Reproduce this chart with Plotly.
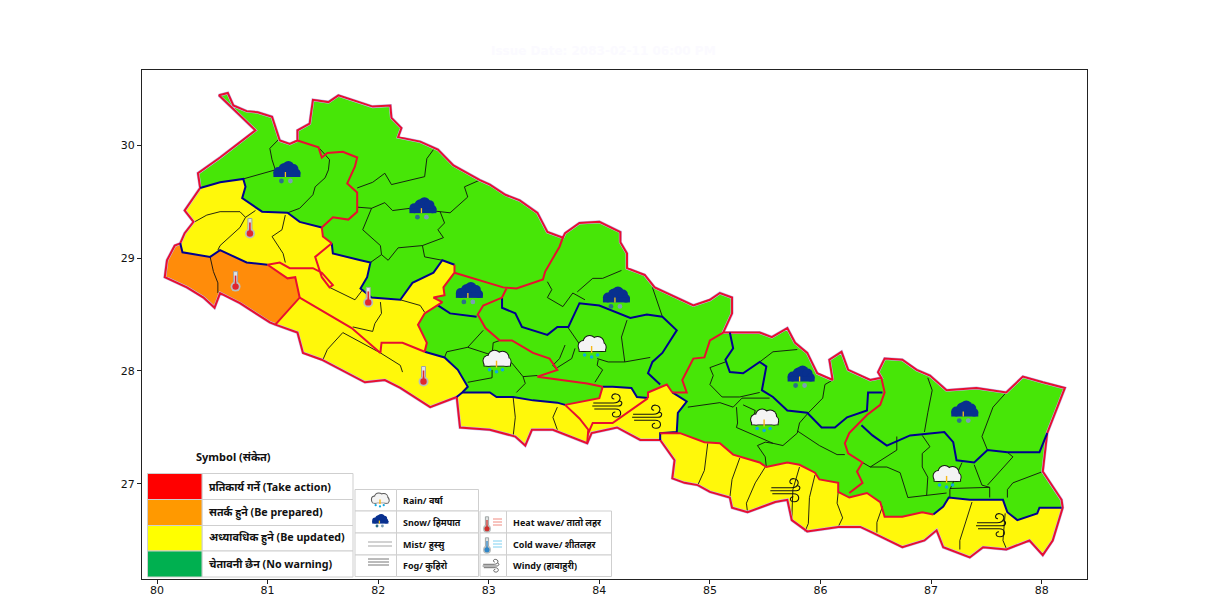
import plotly.graph_objects as go

# map segments, (lon, lat)
outer_north = [(80.39, 29.62), (80.37, 29.75), (80.57, 29.89), (80.89, 30.13), (80.56, 30.44), (80.64, 30.46),
               (80.69, 30.35), (80.81, 30.30), (80.91, 30.29), (81.04, 30.25), (81.08, 30.13), (81.11, 30.04),
               (81.20, 30.01), (81.27, 30.04), (81.27, 30.13), (81.38, 30.19), (81.41, 30.40), (81.55, 30.38),
               (81.64, 30.44), (81.77, 30.40), (81.95, 30.34), (82.11, 30.35), (82.12, 30.24), (82.21, 30.15),
               (82.18, 30.07), (82.38, 30.03), (82.54, 29.96), (82.68, 29.82), (82.92, 29.69), (83.01, 29.65),
               (83.15, 29.56), (83.28, 29.51), (83.44, 29.40), (83.53, 29.23), (83.67, 29.18), (83.69, 29.22),
               (83.82, 29.31), (84.00, 29.32), (84.19, 29.23), (84.19, 29.14), (84.25, 29.04), (84.25, 28.91),
               (84.41, 28.85), (84.50, 28.74), (84.85, 28.58), (85.00, 28.63), (85.09, 28.69), (85.20, 28.65),
               (85.20, 28.51), (85.12, 28.34), (85.20, 28.34), (85.45, 28.34), (85.56, 28.30), (85.70, 28.38),
               (85.77, 28.25), (85.88, 28.16), (85.97, 27.98), (86.11, 27.92), (86.08, 28.10), (86.19, 28.17),
               (86.25, 28.01), (86.45, 27.92), (86.55, 27.94), (86.52, 27.99), (86.58, 28.11), (86.74, 28.10),
               (86.87, 28.01), (86.99, 27.96), (87.14, 27.83), (87.41, 27.85), (87.68, 27.81), (87.83, 27.95),
               (88.01, 27.90), (88.21, 27.85), (88.05, 27.45), (88.01, 27.11), (88.18, 26.86), (88.19, 26.79)]
south_d = [(88.19, 26.79), (88.10, 26.50), (88.01, 26.37), (87.89, 26.50), (87.68, 26.42), (87.47, 26.44),
           (87.35, 26.35), (87.11, 26.44), (87.05, 26.59), (86.94, 26.50), (86.74, 26.44), (86.47, 26.57),
           (86.36, 26.62), (86.16, 26.62), (85.88, 26.58), (85.74, 26.68), (85.70, 26.86), (85.59, 26.84),
           (85.34, 26.75), (85.20, 26.79), (85.18, 26.88), (85.00, 26.93), (84.89, 26.99), (84.77, 27.01),
           (84.66, 27.05), (84.68, 27.21), (84.55, 27.39)]
south_c = [(84.55, 27.39), (84.37, 27.39), (84.16, 27.50), (83.93, 27.45), (83.89, 27.36)]
south_b = [(83.89, 27.36), (83.58, 27.48), (83.39, 27.48), (83.33, 27.34), (83.24, 27.42), (83.01, 27.48),
           (82.74, 27.50), (82.71, 27.77)]
south_a = [(82.71, 27.77), (82.47, 27.68), (82.20, 27.85), (82.06, 27.92), (81.88, 27.90), (81.70, 27.99),
           (81.49, 28.10), (81.32, 28.16), (81.27, 28.34), (81.07, 28.41)]
south_o = [(81.07, 28.41), (81.02, 28.43), (80.75, 28.60), (80.57, 28.69), (80.52, 28.56), (80.42, 28.65),
           (80.27, 28.74), (80.07, 28.83), (80.09, 28.98), (80.16, 29.11), (80.21, 29.13)]
south_w = [(80.21, 29.13), (80.25, 29.22), (80.33, 29.32), (80.25, 29.42), (80.39, 29.62)]

blue_a = [(80.39, 29.62), (80.57, 29.67), (80.78, 29.70), (80.80, 29.63), (80.77, 29.53), (80.95, 29.41),
          (81.18, 29.40), (81.29, 29.32), (81.49, 29.27)]
red_a = [(81.49, 29.27), (81.50, 29.19), (81.58, 29.13)]
blue_b = [(81.58, 29.13), (81.59, 29.04), (81.84, 28.98), (81.93, 28.96), (81.90, 28.83), (81.84, 28.73),
          (81.94, 28.65), (82.20, 28.63), (82.31, 28.78), (82.50, 28.87), (82.58, 28.98), (82.69, 28.94)]
red_c = [(82.69, 28.94), (82.69, 28.87), (82.59, 28.74), (82.60, 28.67), (82.50, 28.65), (82.58, 28.61),
         (82.42, 28.51), (82.36, 28.41), (82.44, 28.25), (82.42, 28.17)]
blue_d = [(82.42, 28.17), (82.60, 28.12), (82.72, 28.01), (82.81, 27.86), (82.76, 27.81), (82.71, 27.77)]
blue_o = [(80.21, 29.13), (80.23, 29.05), (80.48, 29.01), (80.57, 29.07), (80.81, 28.96), (81.00, 28.94)]
red_o = [(81.00, 28.94), (81.18, 28.82), (81.25, 28.83), (81.29, 28.65), (81.07, 28.41)]
blue_e = [(82.76, 27.81), (82.89, 27.81), (83.01, 27.81), (83.07, 27.77), (83.22, 27.77), (83.40, 27.74),
          (83.62, 27.72), (83.69, 27.70)]
red_f = [(83.69, 27.70), (83.82, 27.58), (83.90, 27.48), (83.89, 27.36)]
red_g = [(83.69, 27.70), (84.00, 27.76), (84.03, 27.86)]
blue_h = [(84.03, 27.86), (84.12, 27.86), (84.29, 27.85), (84.34, 27.77), (84.44, 27.76)]
red_h = [(84.44, 27.76), (84.44, 27.81), (84.61, 27.88), (84.66, 27.81)]
blue_i = [(84.66, 27.81), (84.79, 27.73), (84.71, 27.63), (84.70, 27.46), (84.55, 27.45), (84.55, 27.39)]
red_i = [(84.44, 27.76), (84.25, 27.63), (84.12, 27.54), (83.94, 27.54), (83.90, 27.45)]
red_j = [(84.55, 27.45), (84.73, 27.45), (84.95, 27.37), (85.09, 27.36), (85.21, 27.26), (85.45, 27.19),
         (85.51, 27.15), (85.70, 27.19), (85.81, 27.17), (85.95, 27.10), (85.99, 27.04), (86.16, 27.01),
         (86.16, 26.93), (86.26, 26.88), (86.42, 26.92), (86.54, 26.84), (86.58, 26.71), (86.74, 26.71),
         (86.92, 26.75), (87.02, 26.73)]
blue_k = [(87.02, 26.73), (87.11, 26.80), (87.16, 26.88), (87.35, 26.86), (87.65, 26.86), (87.69, 26.75),
          (87.78, 26.68), (87.96, 26.74), (87.98, 26.79), (88.18, 26.79)]

# zone lines inside the country
red_lines = [
    [(81.27, 30.04), (81.46, 29.98), (81.49, 29.89), (81.54, 29.93), (81.68, 29.94), (81.81, 29.89), (81.79, 29.81),
     (81.72, 29.66), (81.81, 29.58), (81.81, 29.41), (81.73, 29.34), (81.59, 29.36), (81.49, 29.27)],
    [(81.00, 28.94), (81.11, 28.96), (81.20, 28.91), (81.41, 28.91), (81.49, 28.87), (81.59, 28.76), (81.56, 28.74),
     (81.49, 28.83), (81.43, 29.01), (81.58, 29.13)],
    [(81.29, 28.65), (81.54, 28.51), (81.76, 28.38), (82.02, 28.16), (82.03, 28.25), (82.22, 28.25), (82.42, 28.17)],
    [(82.69, 28.87), (82.86, 28.82), (83.13, 28.74), (83.25, 28.73), (83.49, 28.81), (83.51, 28.88), (83.64, 29.10),
     (83.67, 29.18)],
    [(83.16, 28.73), (83.12, 28.65), (82.95, 28.58), (82.90, 28.50), (82.97, 28.38), (83.10, 28.27), (83.21, 28.27),
     (83.40, 28.16), (83.55, 28.11), (83.62, 28.01), (83.44, 27.95), (83.67, 27.92), (83.89, 27.89), (84.03, 27.86)],
    [(85.12, 28.34), (85.00, 28.27), (84.95, 28.12), (84.85, 28.11), (84.75, 27.92), (84.79, 27.81), (84.66, 27.81)],
    [(86.55, 27.94), (86.58, 27.81), (86.54, 27.70), (86.42, 27.61), (86.26, 27.45), (86.22, 27.36), (86.25, 27.27),
     (86.38, 27.19), (86.33, 27.11), (86.38, 27.01), (86.26, 26.92)],
    red_a, red_c, red_f, red_g, red_h, red_i, red_j, red_o,
]
blue_lines = [
    [(83.12, 28.65), (83.12, 28.56), (83.24, 28.51), (83.30, 28.39), (83.53, 28.32), (83.62, 28.39), (83.72, 28.39),
     (83.82, 28.60), (84.00, 28.58), (84.28, 28.47), (84.43, 28.50), (84.57, 28.48), (84.70, 28.36), (84.57, 28.16),
     (84.48, 28.08), (84.44, 27.98), (84.55, 27.88)],
    [(82.54, 28.58), (82.65, 28.51), (82.89, 28.48)],
    [(85.18, 28.34), (85.21, 28.20), (85.14, 28.10), (85.18, 27.99), (85.30, 27.98), (85.45, 28.08), (85.51, 28.04),
     (85.47, 27.83), (85.57, 27.77), (85.70, 27.65), (85.88, 27.63), (86.01, 27.50), (86.13, 27.50), (86.24, 27.59),
     (86.42, 27.65), (86.43, 27.81), (86.56, 27.81)],
    [(86.37, 27.52), (86.47, 27.43), (86.60, 27.34), (86.81, 27.43), (87.12, 27.46), (87.20, 27.37), (87.23, 27.21),
     (87.39, 27.19), (87.51, 27.30), (87.69, 27.28), (87.98, 27.28), (88.05, 27.45)],
    blue_a, blue_b, blue_d, blue_e, blue_h, blue_i, blue_k, blue_o,
]
# district lines
black_lines = [
    [(81.11, 30.06), (81.02, 29.97), (81.04, 29.87), (81.07, 29.78), (80.78, 29.70)],
    [(81.47, 29.97), (81.56, 29.87), (81.55, 29.78), (81.52, 29.71), (81.43, 29.63), (81.41, 29.56), (81.29, 29.44),
     (81.18, 29.40)],
    [(82.50, 29.96), (82.44, 29.88), (82.42, 29.72), (82.12, 29.65), (82.06, 29.75), (81.95, 29.67), (81.81, 29.62)],
    [(81.81, 29.45), (81.94, 29.44), (82.06, 29.49), (82.13, 29.42), (82.29, 29.44), (82.56, 29.41), (82.65, 29.40),
     (82.81, 29.54), (82.78, 29.63), (82.92, 29.69)],
    [(81.94, 29.44), (81.86, 29.25), (82.02, 29.11), (82.03, 29.03), (82.09, 28.98), (82.18, 29.09), (82.40, 29.11),
     (82.42, 29.01), (82.58, 28.98)],
    [(82.56, 29.41), (82.60, 29.31), (82.54, 29.25), (82.59, 29.18), (82.40, 29.11)],
    [(82.03, 29.03), (81.93, 28.96)],
    [(80.34, 29.32), (80.45, 29.38), (80.57, 29.41), (80.75, 29.41), (80.80, 29.36), (80.89, 29.42)],
    [(80.80, 29.36), (80.75, 29.27), (80.57, 29.11), (80.55, 29.07)],
    [(80.48, 29.01), (80.51, 28.88), (80.55, 28.78), (80.55, 28.69)],
    [(81.16, 29.38), (81.13, 29.25), (81.04, 29.19), (81.14, 29.04), (81.16, 28.96)],
    [(81.56, 28.74), (81.79, 28.63), (81.86, 28.72)],
    [(82.02, 28.61), (82.03, 28.51), (81.97, 28.42), (81.95, 28.35), (81.77, 28.39)],
    [(82.20, 28.63), (82.38, 28.58), (82.42, 28.52)],
    [(81.68, 28.34), (81.54, 28.19), (81.50, 28.10)],
    [(81.68, 28.34), (82.02, 28.16), (82.20, 28.05), (82.22, 27.99)],
    [(82.95, 28.36), (82.81, 28.21), (82.62, 28.17), (82.60, 28.12)],
    [(82.81, 28.21), (83.03, 28.14), (83.04, 28.25), (83.10, 28.27)],
    [(83.03, 28.14), (83.21, 28.07), (83.31, 27.95), (83.33, 27.89), (83.25, 27.81)],
    [(83.31, 27.95), (83.44, 27.96)],
    [(82.81, 27.90), (83.03, 27.94), (83.03, 28.01)],
    [(83.53, 28.79), (83.57, 28.72), (83.53, 28.65), (83.67, 28.57), (83.76, 28.69), (83.87, 28.63)],
    [(83.80, 28.70), (83.94, 28.82), (84.03, 28.82), (84.20, 28.89)],
    [(84.48, 28.74), (84.57, 28.48)],
    [(84.25, 28.45), (84.20, 28.30), (84.23, 28.08), (84.46, 28.12)],
    [(83.98, 28.11), (84.08, 28.08), (84.23, 28.08)],
    [(83.72, 28.38), (83.80, 28.26), (83.84, 28.21)],
    [(83.69, 28.23), (83.64, 28.11), (83.58, 28.05), (83.62, 28.01)],
    [(83.78, 28.20), (83.75, 28.11), (83.62, 28.03)],
    [(83.99, 28.10), (83.98, 28.05), (84.03, 28.01), (83.96, 27.90)],
    [(83.22, 27.77), (83.24, 27.59), (83.22, 27.42)],
    [(83.62, 27.68), (83.58, 27.59), (83.62, 27.48)],
    [(85.00, 28.03), (85.14, 28.08)],
    [(85.00, 28.03), (85.03, 27.96), (85.00, 27.88), (85.11, 27.77), (85.27, 27.77), (85.45, 27.81)],
    [(85.45, 28.08), (85.57, 28.17), (85.79, 28.19)],
    [(84.80, 27.68), (85.09, 27.72), (85.21, 27.68), (85.29, 27.76), (85.54, 27.76)],
    [(85.24, 27.68), (85.25, 27.54), (85.24, 27.50), (85.42, 27.42), (85.57, 27.36), (85.66, 27.34), (85.79, 27.45),
     (85.81, 27.54), (85.89, 27.63)],
    [(85.30, 27.70), (85.41, 27.65), (85.38, 27.55)],
    [(85.79, 27.47), (85.99, 27.34), (86.15, 27.26), (86.22, 27.26)],
    [(85.89, 27.63), (86.02, 27.76), (86.04, 27.88), (86.11, 27.92)],
    [(85.43, 27.34), (85.50, 27.37), (85.57, 27.36)],
    [(85.43, 27.34), (85.50, 27.24), (85.51, 27.15)],
    [(86.38, 27.19), (86.45, 27.15), (86.69, 27.30), (86.69, 27.42)],
    [(86.45, 27.15), (86.60, 27.15), (86.72, 27.10), (86.78, 26.92), (86.79, 26.88), (87.14, 26.92)],
    [(86.92, 27.43), (86.99, 27.33), (86.92, 27.27), (86.92, 27.15), (86.97, 27.06), (86.96, 26.90)],
    [(86.97, 27.94), (87.01, 27.83), (86.97, 27.63), (86.94, 27.46)],
    [(87.68, 27.81), (87.56, 27.68), (87.46, 27.42), (87.51, 27.30)],
    [(87.28, 27.19), (87.17, 26.95), (87.17, 26.88)],
    [(87.39, 27.17), (87.46, 26.99), (87.53, 26.97), (87.53, 26.88)],
    [(87.17, 26.96), (87.53, 26.97)],
    [(87.51, 26.99), (87.74, 27.24), (87.69, 27.28)],
    [(88.01, 27.11), (87.74, 27.01), (87.69, 26.95), (87.69, 26.88)],
    [(84.98, 27.36), (84.95, 27.12), (84.89, 26.99)],
    [(85.27, 27.23), (85.20, 27.04), (85.18, 26.88)],
    [(85.50, 27.15), (85.41, 27.01), (85.33, 26.83), (85.34, 26.75)],
    [(85.81, 27.15), (85.75, 26.95), (85.74, 26.68)],
    [(85.95, 27.08), (85.90, 26.88), (85.89, 26.65), (85.86, 26.58)],
    [(86.16, 26.93), (86.15, 26.83), (86.20, 26.70), (86.16, 26.62)],
    [(86.56, 26.80), (86.51, 26.66), (86.51, 26.57)],
    [(87.37, 26.84), (87.32, 26.68), (87.26, 26.50), (87.26, 26.42)],
    [(87.67, 26.74), (87.65, 26.50), (87.68, 26.43)],
]

snow_at = [(81.17, 29.77), (82.40, 29.45), (82.82, 28.70), (84.15, 28.66), (85.82, 27.96), (87.30, 27.65)]
rain_at = [(83.07, 28.10), (83.93, 28.23), (85.49, 27.58), (87.14, 27.08)]
thermo_at = [(80.84, 29.27), (80.71, 28.80), (81.91, 28.66), (82.41, 27.96)]
wind_at = [(84.09, 27.69), (84.45, 27.59), (85.70, 26.94), (87.56, 26.63)]

x_ticks = [80, 81, 82, 83, 84, 85, 86, 87, 88]
y_ticks = [27, 28, 29, 30]

warn_labels = ["प्रतिकार्य गर्ने (Take action)", "सतर्क हुने (Be prepared)",
               "अध्यावधिक हुने (Be updated)", "चेतावनी छैन (No warning)"]
warn_colors = ["#ff0000", "#ff9900", "#ffff00", "#00b050"]
sym_labels = ["Rain/ वर्षा", "Snow/ हिमपात", "Mist/ हुस्सु", "Fog/ कुहिरो"]
haz_labels = ["Heat wave/ तातो लहर", "Cold wave/ शीतलहर", "Windy (हावाहुरी)"]

GREEN = "#47e607"
YELLOW = "#fff80a"
ORANGE = "#ff8c0a"
RED = "#e80f30"
BLUE = "#00008f"
FONT = "Noto Sans, Liberation Sans, sans-serif"


def ring(*segments):
    pts = []
    for s in segments:
        pts += s
    return pts


def lines_xy(lines):
    xs, ys = [], []
    for l in lines:
        xs += [p[0] for p in l] + [None]
        ys += [p[1] for p in l] + [None]
    return xs, ys


def px_x(p):
    return (p - 142) / 945


def px_y(p):
    return (579 - p) / 509


fig = go.Figure()

all_outer = ring(outer_north, south_d, south_c, south_b, south_a, south_o, south_w)
fills = [
    (all_outer, GREEN),
    (ring(blue_a, red_a, blue_b, red_c, blue_d, south_a, south_o, south_w), YELLOW),
    (ring(blue_o, red_o, south_o), ORANGE),
    (ring(blue_e, red_f, south_b), YELLOW),
    (ring(red_g, blue_h, red_h, blue_i, south_c, red_f[::-1]), YELLOW),
    (ring(red_j, blue_k, south_d), YELLOW),
]
for pts, c in fills:
    fig.add_trace(go.Scatter(x=[p[0] for p in pts], y=[p[1] for p in pts], mode="lines", fill="toself",
                             fillcolor=c, line=dict(width=0), hoverinfo="skip"))

for lines, color, width in [(black_lines, "#101010", 0.9),
                            ([all_outer], "#c3baf0", 3),
                            ([all_outer], RED, 2),
                            (blue_lines, BLUE, 2),
                            (red_lines, RED, 2)]:
    xs, ys = lines_xy(lines)
    fig.add_trace(go.Scatter(x=xs, y=ys, mode="lines", line=dict(color=color, width=width),
                             hoverinfo="skip"))

shapes = []


def base(kind, at, ref, **kw):
    return dict(type=kind, xref=ref[0], yref=ref[1], xsizemode="pixel", ysizemode="pixel",
                xanchor=at[0], yanchor=at[1], layer="above", **kw)


def dot(at, ref, cx, cy, r, fill):
    shapes.append(base("circle", at, ref, x0=cx - r, x1=cx + r, y0=cy - r, y1=cy + r, fillcolor=fill,
                       line=dict(width=0)))


def stroke(at, ref, path, color, w=1):
    shapes.append(base("path", at, ref, path=path, line=dict(color=color, width=w)))


def cloud(at, ref, s, fill, edge=None):
    lobes = [(-8, -1, 5), (-2, 3, 6), (6, 2, 6), (10, -2, 4)]
    if edge:
        for cx, cy, r in lobes:
            dot(at, ref, cx * s, cy * s, r * s + 1, edge)
        shapes.append(base("rect", at, ref, x0=-13 * s, x1=14.5 * s, y0=-6.8 * s, y1=-2, fillcolor=edge,
                           line=dict(width=0)))
    for cx, cy, r in lobes:
        dot(at, ref, cx * s, cy * s, r * s, fill)
    shapes.append(base("rect", at, ref, x0=-12 * s, x1=13.5 * s, y0=-6 * s, y1=-1, fillcolor=fill,
                       line=dict(width=0)))


def snow_icon(at, ref=("x", "y"), s=1.0):
    for cx, cy, r in [(-8, -1, 5), (-2, 2, 6), (2, 4, 6), (7, 2, 5), (10, -2, 4)]:
        dot(at, ref, cx * s, cy * s, r * s, "#08308f")
    shapes.append(base("rect", at, ref, x0=-13 * s, x1=14 * s, y0=-6 * s, y1=-1, fillcolor="#08308f",
                       line=dict(width=0)))
    stroke(at, ref, f"M {-1 * s} {-1 * s} L {-1 * s} {-6 * s}", "#f5c518", 1.3)
    dot(at, ref, -5 * s, -10 * s, 2.4 * s, "#2d6f8a")
    dot(at, ref, 4 * s, -10 * s, 2.4 * s, "#7a9fb5")


def rain_icon(at, ref=("x", "y"), s=1.0, edge="#151515"):
    cloud(at, ref, s, "#f4f4f4", edge)
    stroke(at, ref, f"M 0 {-1 * s} L 0 {-8 * s}", "#f5b818", 1.4)
    for cx, cy in [(-7, -10), (0, -12), (6, -10)]:
        dot(at, ref, cx * s, cy * s, 1.8 * s, "#12a8e0")


def thermo_icon(at, ref=("x", "y"), bulb="#e0262e", s=1.0):
    shapes.append(base("rect", at, ref, x0=-2 * s, x1=2 * s, y0=-5 * s, y1=9 * s, fillcolor="#dfe3e3",
                       line=dict(color="#a0a5a5", width=1)))
    dot(at, ref, 0, -6 * s, 5 * s, "#b9bebe")
    dot(at, ref, 0, -6 * s, 3.2 * s, bulb)
    shapes.append(base("rect", at, ref, x0=-0.8 * s, x1=0.8 * s, y0=-5 * s, y1=5 * s, fillcolor=bulb,
                       line=dict(width=0)))


def wind_icon(at, ref=("x", "y"), s=1.0, color="#111111"):
    def p(*vals):
        return " ".join(f"{v * s:.1f}" if isinstance(v, (int, float)) else v for v in vals)

    w = 1.1 if s >= 1 else 0.8
    stroke(at, ref, p("M", -16, 3, "L", 4, 3, "C", 12, 3, 13, 11, 7, 12, "C", 2, 13, 1, 7, 5, 7), color, w)
    stroke(at, ref, p("M", -17, 0, "L", 9, 0, "C", 13, 0, 14, 5, 10, 5), color, w)
    stroke(at, ref, p("M", -15, -3, "L", 6, -3, "C", 13, -3, 13, -11, 7, -11, "C", 2, -11, 2, -6, 6, -6), color, w)


for at in snow_at:
    snow_icon(at)
for at in rain_at:
    rain_icon(at)
for at in thermo_at:
    thermo_icon(at)
for at in wind_at:
    wind_icon(at)

ann = []


def text(x, y, t, size, color="#111111"):
    ann.append(dict(x=px_x(x), y=px_y(y), xref="paper", yref="paper", text=t, showarrow=False, xanchor="left",
                    yanchor="middle", font=dict(family=FONT, size=size, color=color)))


def cell(x0, x1, y0, y1, fill="white"):
    shapes.append(dict(type="rect", xref="paper", yref="paper", x0=px_x(x0), x1=px_x(x1), y0=px_y(y1), y1=px_y(y0),
                       fillcolor=fill, line=dict(color="#cfcfcf", width=1), layer="above"))


# legend tables
rows_a = [473.5, 499.5, 525.5, 551, 577]
for i in range(4):
    cell(202, 353, rows_a[i], rows_a[i + 1])
    cell(147.5, 202, rows_a[i], rows_a[i + 1], warn_colors[i])
    text(207, (rows_a[i] + rows_a[i + 1]) / 2, f"<b>{warn_labels[i]}</b>", 10.7)
text(194, 456.5, "<b>Symbol (संकेत)</b>", 11)

rows_b = [489.5, 511, 533, 555, 576.5]
for i in range(4):
    cell(355, 396.5, rows_b[i], rows_b[i + 1])
    cell(396.5, 478.5, rows_b[i], rows_b[i + 1])
    text(401, (rows_b[i] + rows_b[i + 1]) / 2, f"<b>{sym_labels[i]}</b>", 9)

rows_c = [511, 533, 555, 576.5]
for i in range(3):
    cell(480, 506.5, rows_c[i], rows_c[i + 1])
    cell(506.5, 611.5, rows_c[i], rows_c[i + 1])
    text(511, (rows_c[i] + rows_c[i + 1]) / 2, f"<b>{haz_labels[i]}</b>", 9)

pp = ("paper", "paper")
rain_icon((px_x(380), px_y(499)), pp, 0.62, "#555555")
snow_icon((px_x(380), px_y(520)), pp, 0.6)
stroke((px_x(380), px_y(544)), pp, "M -12 2 L 12 2 M -12 -2 L 12 -2", "#c4c4c4", 1.4)
stroke((px_x(380), px_y(562)), pp, "M -12 3 L 9 3 M -12 0 L 9 0 M -12 -3 L 9 -3", "#777777", 1)
thermo_icon((px_x(487), px_y(524)), pp, "#d0312d", 0.8)
thermo_icon((px_x(487), px_y(545)), pp, "#2e86c8", 0.8)
stroke((px_x(497), px_y(522)), pp, "M -4 3 L 5 3 M -4 0 L 5 0 M -4 -3 L 5 -3", "#f08a80", 1)
stroke((px_x(497), px_y(544)), pp, "M -4 3 L 5 3 M -4 0 L 5 0 M -4 -3 L 5 -3", "#7fd0f0", 1)
wind_icon((px_x(492), px_y(566)), pp, 0.55, "#444444")

ann.append(dict(x=px_x(603), y=px_y(51), xref="paper", yref="paper", showarrow=False, xanchor="center",
                yanchor="middle", text="<b>Issue Date: 2083-02-11 06:00 PM</b>",
                font=dict(family="DejaVu Sans", size=12, color="#fbfaff")))

fig.update_layout(
    width=1230, height=609, showlegend=False, autosize=False,
    margin=dict(l=142, r=143, t=70, b=30, pad=0),
    paper_bgcolor="white", plot_bgcolor="white",
    font=dict(family="DejaVu Sans", size=11, color="#111111"),
    shapes=shapes, annotations=ann,
    xaxis=dict(range=[79.864, 88.41], tickvals=x_ticks, showgrid=False, zeroline=False, showline=True, mirror=True,
               linecolor="#222222", linewidth=1, ticks="outside", ticklen=4, tickcolor="#222222", automargin=False,
               ticklabelstandoff=-3),
    yaxis=dict(range=[26.159, 30.664], tickvals=y_ticks, showgrid=False, zeroline=False, showline=True, mirror=True,
               linecolor="#222222", linewidth=1, ticks="outside", ticklen=4, tickcolor="#222222", automargin=False),
)

fig.write_html("out.html", config=dict(displayModeBar=False),
               post_script="document.body.style.margin='0';document.body.style.overflow='hidden';")
